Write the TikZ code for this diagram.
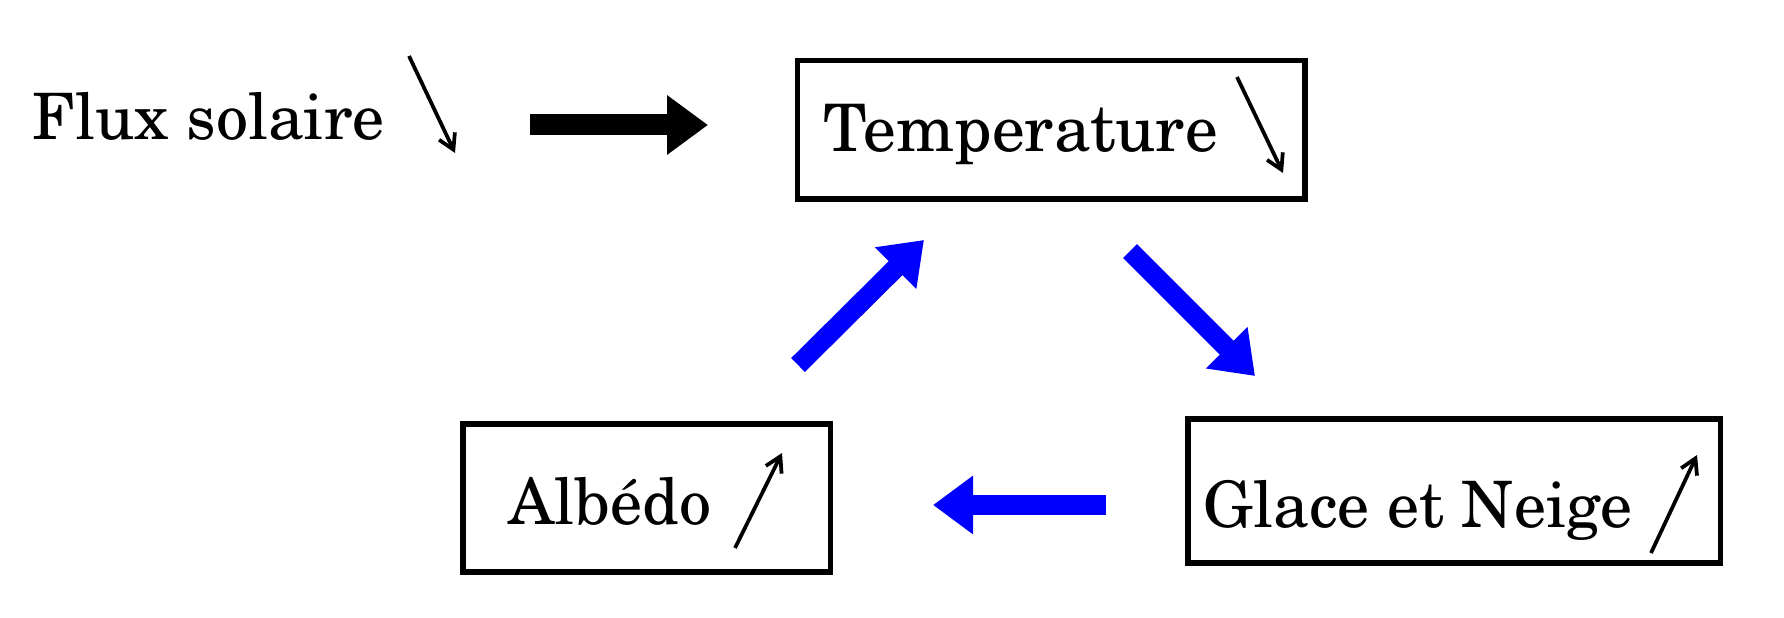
\documentclass[tikz,border=0pt]{standalone}
\usepackage[T1]{fontenc}
\usepackage{newcent}
\usepackage{xcolor}
\definecolor{Col1}{RGB}{0,0,0}
\definecolor{Col2}{RGB}{0,0,255}
\usepackage{tikz}
\usetikzlibrary{arrows.meta}
\tikzstyle{Box}=[draw=Col1,line width=2.2pt,inner sep=0pt]
\tikzstyle{Label}=[inner sep=0pt,anchor=base west,
font=\fontsize{25.6}{30}\selectfont]
\tikzstyle{Trend}=[draw=Col1,line width=1.5pt,
-{Straight Barb[length=6pt,width=7pt]}]
\tikzstyle{BigArrow}=[draw=Col1,line width=8.4pt,
-{Triangle[length=16.4pt,width=22.8pt]}]
\tikzstyle{Feedback}=[draw=Col2,line width=7.8pt,
-{Triangle[length=16pt,width=22.4pt]}]

\begin{document}
\begin{tikzpicture}[x=0.4pt,y=-0.4pt]
        \useasboundingbox (0,0) rectangle (1784,618);
        \node[Box,minimum width=203pt,minimum height=55.4pt](T)at(1051,130){};
        \node[Box,minimum width=147pt,minimum height=59pt](A)at(646.5,498){};
        \node[Box,minimum width=213pt,minimum height=57.4pt](G)at(1454,491){};
        \node[Label](fluxtxt)at(32,140){Flux solaire};
        \node[Label,font=\fontsize{26.2}{30}\selectfont](Ttxt)at(823,152){Temperature};
        \node[Label](Atxt)at(508,524){Alb\'edo};
        \node[Label](Gtxt)at(1203,527){Glace et Neige};
        % small trend arrows
        \coordinate(f0)at(409,56);
        \coordinate(f1)at(455,153);
        \coordinate(t0)at(1237,77);
        \coordinate(t1)at(1283,173);
        \coordinate(a0)at(735,548);
        \coordinate(a1)at(782,453);
        \coordinate(g0)at(1651,553);
        \coordinate(g1)at(1697,455);
        \draw[Trend](f0)--(f1);
        \draw[Trend](t0)--(t1);
        \draw[Trend](a0)--(a1);
        \draw[Trend](g0)--(g1);
        % block arrows
        \coordinate(s0)at(530,125);
        \coordinate(s1)at(708,125);
        \coordinate(u0)at(798,365);
        \coordinate(u1)at(924,240);
        \coordinate(d0)at(1130,251);
        \coordinate(d1)at(1255,376);
        \coordinate(l0)at(1106,505);
        \coordinate(l1)at(933,505);
        \draw[BigArrow](s0)--(s1);
        \draw[Feedback](u0)--(u1);
        \draw[Feedback](d0)--(d1);
        \draw[Feedback](l0)--(l1);
    \end{tikzpicture}
\end{document}
